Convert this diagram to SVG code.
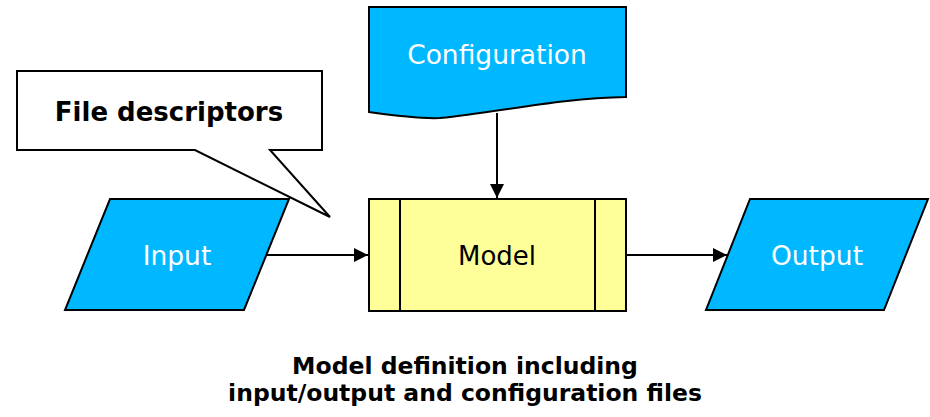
<svg xmlns="http://www.w3.org/2000/svg" width="930" height="417" viewBox="0 0 930 417">
<defs>
<marker id="ah" markerWidth="14" markerHeight="14" refX="14" refY="7" orient="auto" markerUnits="userSpaceOnUse">
<path d="M0,0 L14,7 L0,14 Z" fill="#000"/>
</marker>
<style>
.io{fill:#00B8FF;stroke:#000;stroke-width:2}
.proc{fill:#FFFF99;stroke:#000;stroke-width:2}
.wt{font-family:"DejaVu Sans",Verdana,sans-serif;font-size:26.5px;fill:#fff;text-anchor:middle}
.bk{font-family:"DejaVu Sans",Verdana,sans-serif;font-size:26px;fill:#000;text-anchor:middle}
.bold{font-family:"DejaVu Sans",Verdana,sans-serif;font-size:23.5px;font-weight:bold;fill:#000;text-anchor:middle}
.conn{stroke:#000;stroke-width:2;fill:none}
</style>
</defs>
<rect width="930" height="417" fill="#fff"/>
<g id="callout">
<path d="M17,71 L322,71 L322,150 L270,150 L330,217 L195,150 L17,150 Z" fill="#fff" stroke="#000" stroke-width="2"/>
<text class="bold" x="169" y="121" style="font-size:26px">File descriptors</text>
</g>
<g id="configuration">
<path class="io" d="M369,7 L626,7 L626,97 C560,98 500,112 440,118 C420,119 390,115 369,112 Z"/>
<text class="wt" x="497" y="64">Configuration</text>
</g>
<g id="input">
<path class="io" d="M110,199 L289,199 L244,310 L65,310 Z"/>
<text class="wt" x="177" y="265">Input</text>
</g>
<g id="model">
<rect class="proc" x="369" y="199" width="257" height="112"/>
<line class="conn" x1="400" y1="199" x2="400" y2="311"/>
<line class="conn" x1="595" y1="199" x2="595" y2="311"/>
<text class="bk" x="497" y="265">Model</text>
</g>
<g id="output">
<path class="io" d="M750,199 L928,199 L884,310 L706,310 Z"/>
<text class="wt" x="817" y="265">Output</text>
</g>
<g id="connectors">
<line class="conn" x1="497" y1="113" x2="497" y2="198" marker-end="url(#ah)"/>
<line class="conn" x1="267" y1="255" x2="368" y2="255" marker-end="url(#ah)"/>
<line class="conn" x1="626" y1="255" x2="727" y2="255" marker-end="url(#ah)"/>
</g>
<g id="caption">
<text class="bold" x="465" y="374">Model definition including</text>
<text class="bold" x="465" y="401">input/output and configuration files</text>
</g>
</svg>
